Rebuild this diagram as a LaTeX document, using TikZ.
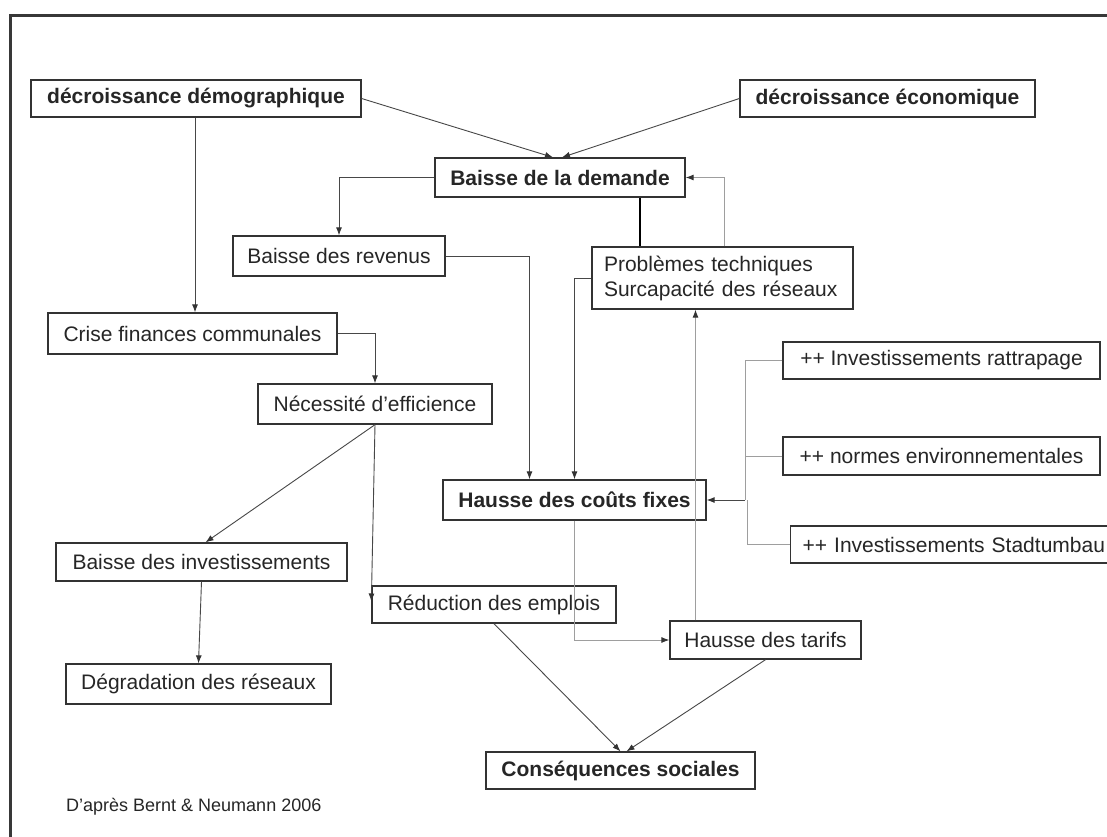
\documentclass[tikz,border=0pt]{standalone}
\usepackage{fontspec}
\setmainfont{Liberation Sans}
\usetikzlibrary{arrows.meta,calc}
\begin{document}
\begin{tikzpicture}[x=1pt,y=-1pt,
  font=\fontsize{21}{25}\selectfont,
  box/.style={draw=black!80, line width=1.3pt, text=black!85, inner sep=0pt, align=center},
  bbox/.style={box, font=\fontsize{21}{25}\selectfont\bfseries},
  arr/.style={-{Latex[length=8pt,width=6pt,color=black!80]}, draw=black!72, line width=0.9pt},
  garr/.style={arr, draw=black!38},
  gline/.style={draw=black!38, line width=1pt},
  thickline/.style={draw=black, line width=1.8pt}]
\useasboundingbox (0,0) rectangle (1107,836);
\clip (0,0) rectangle (1107,836);
\fill[white] (0,0) rectangle (1107,836);
\draw[line width=3pt, black!78] (10,15) rectangle (1140,870);

% nodes
\node[bbox, minimum width=330pt, minimum height=37pt] (demo) at (196,98.5) {décroissance démographique};
\node[bbox, minimum width=295pt, minimum height=37pt] (eco) at (887.5,98.5) {décroissance économique};
\node[bbox, minimum width=250pt, minimum height=39pt] (dem) at (560,177.5) {Baisse de la demande};
\node[box, minimum width=212pt, minimum height=40pt] (rev) at (339,256) {Baisse des revenus};
\node[box, text width=237pt, inner xsep=12pt, align=left, minimum height=62pt] (prob) at (722.5,278) {Problèmes techniques\\Surcapacité des réseaux};
\node[box, minimum width=289pt, minimum height=41pt] (crise) at (192.5,333.5) {Crise finances communales};
\node[box, minimum width=234pt, minimum height=40pt] (nec) at (375,404) {Nécessité d’efficience};
\node[bbox, minimum width=263pt, minimum height=40pt] (couts) at (574.5,500) {Hausse des coûts fixes};
\node[box, minimum width=317pt, minimum height=37pt] (inv) at (941.5,360.5) {++ Investissements rattrapage};
\node[box, minimum width=317pt, minimum height=38pt] (norm) at (941.5,456) {++ normes environnementales};
\node[box, anchor=west, text width=316pt, inner xsep=12pt, align=left, minimum height=37pt] (stadt) at (790,544.5) {++ Investissements Stadtumbau};
\node[box, minimum width=291pt, minimum height=38pt] (binv) at (201.5,562) {Baisse des investissements};
\node[box, minimum width=244pt, minimum height=37pt] (red) at (494,604.5) {Réduction des emplois};
\node[box, minimum width=265pt, minimum height=40pt] (deg) at (198.5,684) {Dégradation des réseaux};
\node[box, minimum width=191pt, minimum height=38pt] (tar) at (765.5,640) {Hausse des tarifs};
\node[bbox, minimum width=269pt, minimum height=37pt] (cons) at (620.5,770.5) {Conséquences sociales};
\node[anchor=west, text=black!85, font=\fontsize{18}{22}\selectfont, inner sep=0pt] (src) at (66,807) {D’après Bernt \& Neumann 2006};

\coordinate (br) at (745,500);

% connectors
\draw[arr] (demo.east) -- ([xshift=-7pt]dem.north);
\draw[arr] (eco.west) -- ([xshift=2pt]dem.north);
\draw[arr] (dem.west) -| (rev.north);
\draw[arr] ([xshift=-1pt]demo.south) -- ([xshift=-1pt]demo.south |- crise.north);
\draw[arr] (rev.east) -| ([xshift=-45pt]couts.north);
\draw[thickline] ([xshift=80pt]dem.south) -- ([xshift=80pt]dem.south |- prob.north);
\draw[garr] ([xshift=1.5pt]prob.north) |- (dem.east);
\draw[arr] (prob.west) -| (couts.north);
\draw[garr] ([xshift=-70pt]tar.north) -- ([xshift=-70pt]tar.north |- prob.south);
\draw[arr] (crise.east) -| (nec.north);
\draw[arr] (nec.south) -- ([xshift=4pt]binv.north);
\draw[arr] (nec.south) -- ([yshift=3pt]red.west);
\draw[arr] (binv.south) -- (deg.north);
\draw[garr] (couts.south) |- (tar.west);
\draw[arr] (red.south) -- (cons.north);
\draw[arr] (tar.south) -- ([xshift=6pt]cons.north);
\draw[gline] (inv.west) -| (br);
\draw[gline] (norm.west) -| (br);
\draw[gline] (stadt.west) -| ([xshift=2pt]br);
\draw[arr] (br) -- (couts.east);
\end{tikzpicture}
\end{document}
